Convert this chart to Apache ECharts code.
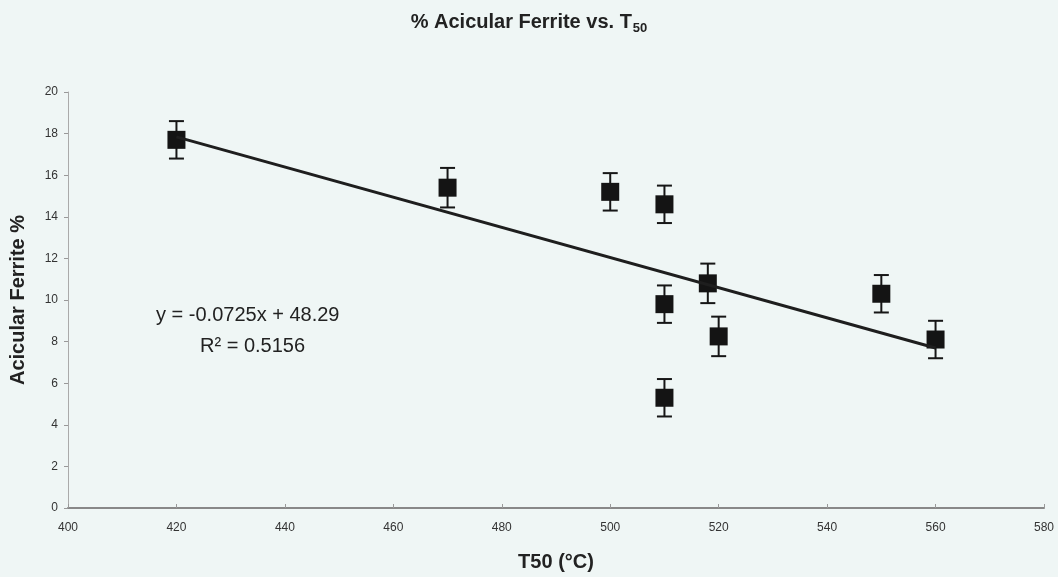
<!DOCTYPE html>
<html>
<head>
<meta charset="utf-8">
<script src="https://cdn.jsdelivr.net/npm/echarts@6/dist/echarts.min.js"></script>
<style>
  html, body { margin: 0; padding: 0; background: #eff6f5; }
  #chart { width: 1058px; height: 577px; }
</style>
</head>
<body>
<div id="chart"></div>
<script>
// data
var tempC = [420, 470, 500, 510, 510, 510, 518, 520, 550, 560];
var ferritePct = [17.7, 15.4, 15.2, 14.6, 9.8, 5.3, 10.8, 8.25, 10.3, 8.1];
var errPct = [0.9, 0.95, 0.9, 0.9, 0.9, 0.9, 0.95, 0.95, 0.9, 0.9];
var trendX = [420, 560];
var trendY = [17.84, 7.69];

var points = tempC.map(function (t, i) { return [t, ferritePct[i]]; });
var bars = tempC.map(function (t, i) { return [t, ferritePct[i] - errPct[i], ferritePct[i] + errPct[i]]; });
var trend = trendX.map(function (t, i) { return [t, trendY[i]]; });

var myChart = echarts.init(document.getElementById('chart'));
var font = 'Liberation Sans, Arial, sans-serif';

var option = {
  backgroundColor: '#eff6f5',
  animation: false,
  title: {
    text: '% Acicular Ferrite vs. T{s|50}',
    left: 'center',
    top: 4,
    textStyle: {
      fontFamily: font, fontSize: 20, fontWeight: 'bold', color: '#222',
      rich: { s: { fontFamily: font, fontSize: 13, fontWeight: 'bold', color: '#222', padding: [13, 0, 0, 1] } }
    }
  },
  grid: { left: 68, right: 14, top: 92, bottom: 66 },
  xAxis: {
    type: 'value', min: 400, max: 580, interval: 20,
    name: 'T50 (°C)', nameLocation: 'middle', nameGap: 44,
    nameTextStyle: { fontFamily: font, fontSize: 20, fontWeight: 'bold', color: '#222' },
    axisLine: { lineStyle: { color: '#888', width: 2 } },
    axisTick: { show: true, inside: true, length: 4, lineStyle: { color: '#999' } },
    axisLabel: { margin: 14, fontFamily: 'Liberation Sans Narrow, Liberation Sans, Arial', fontSize: 12, color: '#333' },
    splitLine: { show: false }
  },
  yAxis: {
    type: 'value', min: 0, max: 20, interval: 2,
    name: 'Acicular Ferrite %', nameLocation: 'middle', nameGap: 40,
    nameTextStyle: { fontFamily: font, fontSize: 20, fontWeight: 'bold', color: '#222' },
    axisLine: { show: true, lineStyle: { color: '#aaa', width: 1 } },
    axisTick: { show: true, length: 4, lineStyle: { color: '#999' } },
    axisLabel: { margin: 10, fontFamily: font, fontSize: 12, color: '#333' },
    splitLine: { show: false }
  },
  series: [
    {
      name: 'error',
      type: 'custom',
      data: bars,
      z: 2,
      renderItem: function (params, api) {
        var x = api.value(0);
        var lo = api.coord([x, api.value(1)]);
        var hi = api.coord([x, api.value(2)]);
        var half = 7.5;
        var style = { stroke: '#161616', lineWidth: 2 };
        return {
          type: 'group',
          children: [
            { type: 'line', shape: { x1: hi[0], y1: hi[1], x2: lo[0], y2: lo[1] }, style: style },
            { type: 'line', shape: { x1: hi[0] - half, y1: hi[1], x2: hi[0] + half, y2: hi[1] }, style: style },
            { type: 'line', shape: { x1: lo[0] - half, y1: lo[1], x2: lo[0] + half, y2: lo[1] }, style: style }
          ]
        };
      }
    },
    {
      name: 'Acicular Ferrite',
      type: 'scatter',
      data: points,
      symbol: 'rect',
      symbolSize: 18,
      z: 3,
      itemStyle: { color: '#141414', opacity: 1 }
    },
    {
      name: 'trend',
      type: 'line',
      data: trend,
      symbol: 'none',
      z: 4,
      lineStyle: { color: '#1e1e1e', width: 3 }
    }
  ],
  graphic: [
    { type: 'text', left: 156, top: 305, style: { text: 'y = -0.0725x + 48.29', font: '20px ' + font, fill: '#222' } },
    { type: 'text', left: 200, top: 336, style: { text: 'R² = 0.5156', font: '20px ' + font, fill: '#222' } }
  ]
};
myChart.setOption(option);
</script>
</body>
</html>
